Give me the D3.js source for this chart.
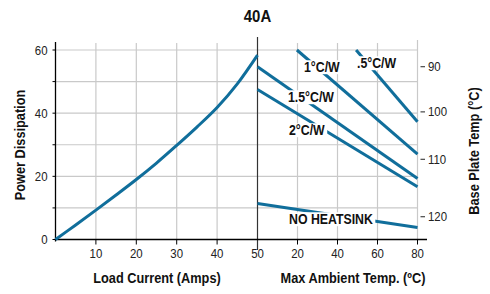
<!DOCTYPE html>
<html>
<head>
<meta charset="utf-8">
<script src="https://cdn.jsdelivr.net/npm/d3@7"></script>
<style>
  body { margin: 0; background: #fff; }
  svg { font-family: "Liberation Sans", Arial, sans-serif; }
</style>
</head>
<body>
<div id="chart"></div>
<script>
// load current curve (amps -> watts)
var loadAmps = [0, 5, 10, 15, 20, 25, 30, 35, 40, 45, 50];
var loadWatts = [0, 4.6, 9.3, 14.1, 19, 24.2, 29.8, 35.6, 41.8, 49.3, 58.4];

// heatsink lines (max ambient temp -> watts), start and end points
var sinkNames = [".5°C/W", "1°C/W", "1.5°C/W", "2°C/W", "NO HEATSINK"];
var sinkTemps = [[49.3, 80], [19.7, 80], [0, 80], [0, 80], [0, 80]];
var sinkWatts = [[60, 37.3], [60, 27], [54.7, 19.3], [47.5, 16.7], [11.4, 3.8]];

var powerTicks = [0, 10, 20, 30, 40, 50, 60];
var powerLabels = ["0", "", "20", "", "40", "", "60"];
var ampTicks = [10, 20, 30, 40];
var tempTicks = [20, 40, 60, 80];
var baseTicks = [90, 100, 110, 120];
var baseWatts = [54.7, 40.4, 25.4, 7.2]; // base plate temp position in watts

var W = 490, H = 294;
var blue = "#106e9b";
var squeeze = 0.88; // fake a condensed face

var svg = d3.select("#chart").append("svg")
    .attr("width", W)
    .attr("height", H);

// text drawn narrower with a horizontal scale
function narrowText(parent, x, y, str, size, opts) {
    opts = opts || {};
    var g = parent.append("g")
        .attr("transform", "translate(" + x + "," + y + ")" + (opts.rotate ? " rotate(" + opts.rotate + ")" : "") + " scale(" + squeeze + ",1)");
    var t = g.append("text")
        .attr("font-size", size + "px")
        .attr("font-weight", opts.bold ? "bold" : "normal")
        .attr("fill", opts.fill || "#111")
        .attr("text-anchor", opts.anchor || "start")
        .attr("dy", opts.dy || 0)
        .text(str);
    return {g: g, t: t};
}

var xL = d3.scaleLinear().domain([0, 50]).range([55.5, 257.5]);
var xR = d3.scaleLinear().domain([0, 80]).range([257.5, 417.5]);
var y = d3.scaleLinear().domain([0, 60]).range([239.5, 50]);
var yBase = d3.scaleLinear().domain(baseTicks).range(baseWatts.map(y));

//grid
var grid = svg.append("g").attr("stroke", "#c9c9c9").attr("stroke-width", 1.2);
grid.selectAll(".hg").data(powerTicks.slice(1)).enter().append("line")
    .attr("x1", xL(0)).attr("x2", xR(80))
    .attr("y1", y).attr("y2", y);
grid.selectAll(".vl").data(ampTicks).enter().append("line")
    .attr("x1", xL).attr("x2", xL)
    .attr("y1", 43).attr("y2", y(0));
grid.selectAll(".vr").data(tempTicks).enter().append("line")
    .attr("x1", xR).attr("x2", xR)
    .attr("y1", function(d){ return d == 80 ? 40 : 43; }).attr("y2", y(0));

//left axis
svg.append("line")
    .attr("x1", xL(0)).attr("x2", xL(0))
    .attr("y1", 42).attr("y2", y(0) + 2)
    .attr("stroke", "#000").attr("stroke-width", 1.3);
svg.selectAll(".ltick").data(powerTicks).enter().append("line")
    .attr("x1", xL(0) - 3).attr("x2", xL(0))
    .attr("y1", y).attr("y2", y)
    .attr("stroke", "#000");
powerTicks.forEach(function(d, i){
    narrowText(svg, 47.5, y(d), powerLabels[i], 13, {anchor: "end", dy: "0.35em", fill: "#222"});
});

//divider
svg.append("line")
    .attr("x1", xL(50)).attr("x2", xL(50))
    .attr("y1", 37).attr("y2", 250)
    .attr("stroke", "#333").attr("stroke-width", 1.2);

//bottom axis
svg.append("line")
    .attr("x1", xL(0)).attr("x2", 427)
    .attr("y1", y(0)).attr("y2", y(0))
    .attr("stroke", "#000").attr("stroke-width", 1.3);
svg.selectAll(".bl").data(ampTicks).enter().append("line")
    .attr("x1", xL).attr("x2", xL).attr("y1", y(0)).attr("y2", y(0) + 5)
    .attr("stroke", "#000");
svg.selectAll(".br").data(tempTicks).enter().append("line")
    .attr("x1", xR).attr("x2", xR).attr("y1", y(0)).attr("y2", y(0) + 5)
    .attr("stroke", "#000");
ampTicks.concat([50]).forEach(function(d){
    narrowText(svg, xL(d), 257.5, d, 13, {anchor: "middle", fill: "#222"});
});
tempTicks.forEach(function(d){
    narrowText(svg, xR(d), 257.5, d, 13, {anchor: "middle", fill: "#222"});
});

//right axis (base plate temp)
svg.selectAll(".rt").data(baseTicks).enter().append("line")
    .attr("x1", 420.5).attr("x2", 425)
    .attr("y1", yBase).attr("y2", yBase)
    .attr("stroke", "#222");
baseTicks.forEach(function(d){
    narrowText(svg, 428, yBase(d), d, 13, {dy: "0.35em", fill: "#222"});
});

//load curve
var loadLine = d3.line()
    .x(function(d){ return xL(d[0]); })
    .y(function(d){ return y(d[1]); })
    .curve(d3.curveCatmullRom.alpha(0.5));
svg.append("path")
    .datum(d3.zip(loadAmps, loadWatts))
    .attr("d", loadLine)
    .attr("fill", "none").attr("stroke", blue).attr("stroke-width", 3);

//heatsink lines
var sinkLine = d3.line()
    .x(function(d){ return xR(d[0]); })
    .y(function(d){ return y(d[1]); });
svg.selectAll(".sink").data(sinkNames).enter().append("path")
    .attr("d", function(d, i){ return sinkLine(d3.zip(sinkTemps[i], sinkWatts[i])); })
    .attr("fill", "none").attr("stroke", blue).attr("stroke-width", 3);

//labels over the lines
var labelPos = [[357, 68], [304, 72], [288, 102], [289, 135], [289, 224]];
sinkNames.forEach(function(name, i){
    var bg = svg.append("rect").attr("fill", "#fff");
    var lab = narrowText(svg, labelPos[i][0], labelPos[i][1], name, 14, {bold: true});
    var b = lab.t.node().getBBox();
    bg.attr("x", labelPos[i][0] + b.x * squeeze - 2).attr("y", labelPos[i][1] + b.y + 1)
      .attr("width", b.width * squeeze + 4).attr("height", b.height - 2);
});

//titles
narrowText(svg, 257.5, 22, "40A", 17, {anchor: "middle", bold: true});
narrowText(svg, 157, 283, "Load Current (Amps)", 14.5, {anchor: "middle", bold: true});
narrowText(svg, 353, 283, "Max Ambient Temp. (ºC)", 14.5, {anchor: "middle", bold: true});
narrowText(svg, 25, 145, "Power Dissipation", 14.5, {anchor: "middle", bold: true, rotate: -90});
narrowText(svg, 479, 151, "Base Plate Temp (°C)", 14.5, {anchor: "middle", bold: true, rotate: -90});
</script>
</body>
</html>
